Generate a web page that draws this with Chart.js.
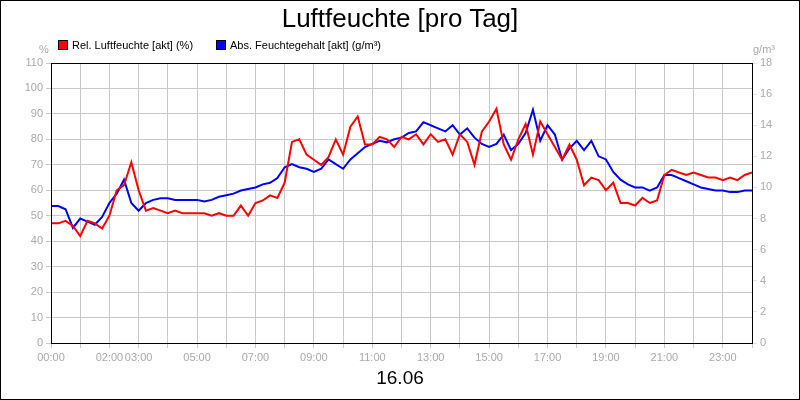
<!DOCTYPE html>
<html><head><meta charset="utf-8">
<script src="https://cdn.jsdelivr.net/npm/chart.js@4"></script>
<style>
body{margin:0;}
#wrap{position:relative;width:800px;height:400px;box-sizing:border-box;border:1px solid #000;background:#fff;font-family:Arial,"Liberation Sans",sans-serif;}
canvas{position:absolute;left:0;top:0;}
.t{position:absolute;white-space:nowrap;}
.sw{display:inline-block;width:8px;height:8px;border:1px solid #000;margin-right:4px;vertical-align:-1px;}
</style></head><body>
<div id="wrap">
<canvas id="c" width="798" height="398"></canvas>
<div class="t" style="left:0;width:798px;text-align:center;top:2px;font-size:26px;">Luftfeuchte [pro Tag]</div>
<div class="t" style="left:57px;top:38px;font-size:11px;"><span class="sw" style="background:#f00"></span>Rel. Luftfeuchte [akt] (%)</div>
<div class="t" style="left:215px;top:38px;font-size:11px;"><span class="sw" style="background:#00f"></span>Abs. Feuchtegehalt [akt] (g/m³)</div>
<div class="t" style="left:38px;top:42px;font-size:11px;color:#aaa;">%</div>
<div class="t" style="left:752px;top:42px;font-size:11px;color:#aaa;">g/m³</div>
<div class="t" style="left:0;width:798px;text-align:center;top:366px;font-size:19px;">16.06</div>
</div>
<script>
const hours = [];
for (let i = 0; i <= 96; i++) hours.push(i / 4);
const relHumidity = [47,47,48,46, 42,48,47,45, 50,60,62,71, 60,52,53,52, 51,52,51,51, 51,51,50,51,
 50,50,54,50, 55,56,58,57, 63,79,80,74, 72,70,73,80, 74,85,89,78, 78,81,80,77, 81,80,82,78,
 82,79,80,74, 82,79,70,83, 87,92,78,72, 80,86,74,87, 82,77,72,78, 72,62,65,64, 60,63,55,55,
 54,57,55,56, 66,68,67,66, 67,66,65,65, 64,65,64,66, 67];
const absHumidity = [8.8,8.8,8.6,7.4, 8.0,7.8,7.6,8.1, 9.0,9.6,10.5,9.0, 8.5,9.0,9.2,9.3, 9.3,9.2,9.2,9.2,
 9.2,9.1,9.2,9.4, 9.5,9.6,9.8,9.9, 10.0,10.2,10.3,10.6, 11.3,11.5,11.3,11.2, 11.0,11.2,11.8,11.5,
 11.2,11.8,12.2,12.6, 12.8,13.0,12.9,13.1, 13.2,13.5,13.6,14.2, 14.0,13.8,13.6,14.0, 13.4,13.8,13.2,12.8,
 12.6,12.8,13.4,12.4, 12.8,13.5,15.0,13.0, 14.0,13.4,11.8,12.5, 13.0,12.4,13.0,12.0, 11.8,11.0,10.5,10.2,
 10.0,10.0,9.8,10.0, 10.8,10.8,10.6,10.4, 10.2,10.0,9.9,9.8, 9.8,9.7,9.7,9.8, 9.8];
const xLabels = {0:'00:00',2:'02:00',3:'03:00',5:'05:00',7:'07:00',9:'09:00',11:'11:00',13:'13:00',15:'15:00',17:'17:00',19:'19:00',21:'21:00',23:'23:00'};

const frame = {id:'frame', afterDraw(ch){const a=ch.chartArea,c=ch.ctx;c.save();c.strokeStyle='#000';c.lineWidth=1;c.strokeRect(a.left+0.5,a.top+0.5,a.right-a.left,a.bottom-a.top);c.restore();}};
const tickFont = {family:'Arial', size:11};
new Chart(document.getElementById('c'), {
 type:'line',
 data:{datasets:[
  {data:hours.map((h,i)=>({x:h,y:relHumidity[i]})), borderColor:'#f00', borderWidth:2, pointRadius:0, yAxisID:'y'},
  {data:hours.map((h,i)=>({x:h,y:absHumidity[i]})), borderColor:'#00f', borderWidth:2, pointRadius:0, yAxisID:'y2'}
 ]},
 options:{responsive:false, animation:false, layout:{padding:{top:62,left:0,right:0,bottom:0}},
  plugins:{legend:{display:false}, title:{display:false}, tooltip:{enabled:false}},
  scales:{
   x:{type:'linear',min:0,max:24, afterFit(s){s.height=56;},
      ticks:{stepSize:1,autoSkip:false,maxRotation:0,color:'#aaa',font:tickFont,callback:v=>xLabels[v]||''},
      grid:{color:'#c8c8c8',tickLength:5}, border:{color:'#000'}},
   y:{position:'left',min:0,max:110, afterFit(s){s.width=50;},
      ticks:{stepSize:10,color:'#aaa',font:tickFont}, grid:{color:'#c8c8c8',tickLength:5}, border:{color:'#000'}},
   y2:{position:'right',min:0,max:18, afterFit(s){s.width=47;},
      ticks:{stepSize:2,color:'#aaa',font:tickFont}, grid:{drawOnChartArea:false,tickLength:5}, border:{color:'#000'}}
  }},
 plugins:[frame]
});
</script></body></html>
